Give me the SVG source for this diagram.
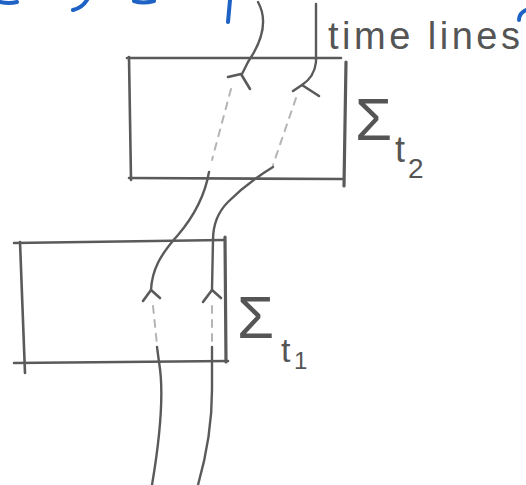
<svg xmlns="http://www.w3.org/2000/svg" width="526" height="485" viewBox="0 0 526 485">
<defs>
<style>
.edge{fill:none;stroke:#5a5a5a;stroke-width:2.6;stroke-linecap:round;stroke-linejoin:round}
.heavy{stroke-width:3.2}
.dash{fill:none;stroke:#b4b4b4;stroke-width:2;stroke-dasharray:7 7;stroke-linecap:round}
.line{fill:none;stroke:#5a5a5a;stroke-width:2.4;stroke-linecap:round;stroke-linejoin:round}
.arrow{fill:none;stroke:#5a5a5a;stroke-width:2.6;stroke-linecap:round;stroke-linejoin:round}
.blue{fill:none;stroke:#1d62c4;stroke-width:4;stroke-linecap:round}
.lbl{font-family:"Liberation Sans",Arial,sans-serif;fill:#555}
</style>
</defs>
<rect width="526" height="485" fill="#fff"/>
<g id="cropped-ink">
<path class="blue" d="M0,2 Q9,4 17,2"/>
<path class="blue" d="M87,0 Q82,8 73,10"/>
<path class="blue" d="M134,1 Q143,4 154,1"/>
<path class="blue" d="M230,0 L228,22"/>
<path class="blue" d="M526,10 Q519,13 519,20"/>
</g>
<g id="sigma-t2">
<path class="edge" d="M127,58 L341,58"/>
<path class="edge" d="M129,57 L131,180"/>
<path class="edge" d="M129,178 L342,179"/>
<path class="edge heavy" d="M346,62 L344,186"/>
<text class="lbl" x="355" y="140" font-size="60">Σ</text>
<text class="lbl" x="395" y="162" font-size="36">t</text>
<text class="lbl" x="408" y="178" font-size="28">2</text>
</g>
<g id="sigma-t1">
<path class="edge" d="M14,243 L224,240"/>
<path class="edge" d="M20,242 L25,373"/>
<path class="edge" d="M14,363 L228,361"/>
<path class="edge heavy" d="M225,237 L226,362"/>
<text class="lbl" x="237" y="338" font-size="60">Σ</text>
<text class="lbl" x="281" y="362" font-size="34">t</text>
<text class="lbl" x="294" y="369" font-size="24">1</text>
</g>
<g id="time-lines-label">
<text class="lbl" x="328" y="49" font-size="38" textLength="192" lengthAdjust="spacing">time lines</text>
</g>
<g id="connectors">
<path class="line" d="M258,2 C268,20 263,40 248,62 L242,74"/>
<path class="arrow" d="M228,77 L241,74 L250,89"/>
<path class="dash" d="M231,89 L212,160"/>
<path class="line" d="M209,172 C205,195 195,215 178,235 C160,255 152,270 151,290"/>
<path class="arrow" d="M143,301 L151,290 L160,298"/>
<path class="dash" d="M153,306 L157,345"/>
<path class="line" d="M157,347 L159,362 C163,385 163,420 152,485"/>

<path class="line" d="M316,4 L316,62 C315,72 311,79 302,85"/>
<path class="arrow" d="M293,91 L302,85 L319,96"/>
<path class="dash" d="M296,98 L273,165"/>
<path class="line" d="M273,167 C255,178 240,190 228,202 C218,212 213,225 213,240 L212,290"/>
<path class="arrow" d="M203,302 L212,290 L221,298"/>
<path class="dash" d="M212,306 L212,347"/>
<path class="line" d="M212,347 L212,390 C212,420 208,450 198,485"/>
</g>
</svg>
